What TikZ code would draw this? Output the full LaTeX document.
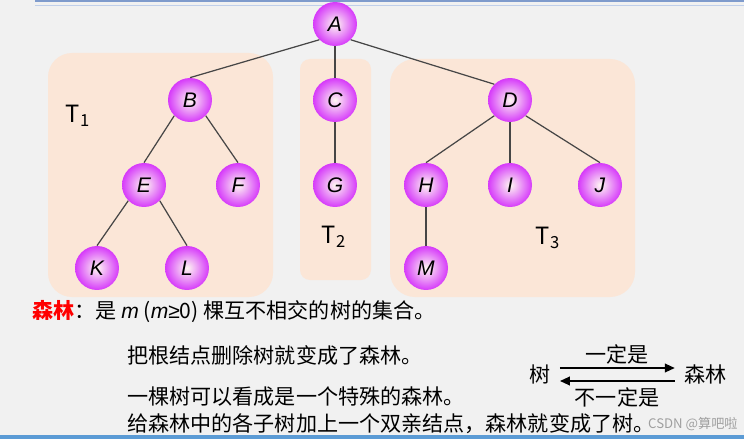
\documentclass[tikz,border=0pt]{standalone}
\usepackage{fontspec}
\setmainfont{Noto Sans CJK SC}
\newfontfamily\latinfont{Liberation Sans}
\usetikzlibrary{arrows.meta, positioning}
\definecolor{ballmagenta}{RGB}{214, 58, 250}
\definecolor{ballcenter}{RGB}{255, 248, 242}
\definecolor{peach}{RGB}{251, 230, 215}
\definecolor{slidegray}{RGB}{241, 241, 241}
\definecolor{rulebluedark}{RGB}{127, 155, 204}
\definecolor{rulebluelight}{RGB}{192, 207, 234}
\definecolor{barblue}{RGB}{91, 155, 213}
\definecolor{edgegray}{RGB}{70, 70, 70}

\begin{document}
\begin{tikzpicture}[
    x=0.02cm, y=-0.02cm,
    treenode/.style={
        circle, minimum size=0.88cm, inner sep=0pt,
        shading=radial, inner color=ballcenter, outer color=ballmagenta,
        font=\latinfont\itshape\fontsize{12}{14}\selectfont
    },
    treebox/.style={fill=peach, draw=none},
    link/.style={draw=edgegray, line width=0.7pt},
    treelabel/.style={font=\fontsize{13.5}{16}\selectfont, inner sep=0pt},
    slidetext/.style={anchor=west, inner sep=0pt, font=\fontsize{12}{14}\selectfont},
    swaparrow/.style={-{Triangle[length=2mm, width=1.7mm]}, black, line width=1.2pt}
]

% slide background
\useasboundingbox (0,0) rectangle (744,439);
\fill[slidegray] (0,0) rectangle (744,439);
\fill[rulebluedark] (35,0) rectangle (744,2.3);
\fill[rulebluelight] (35,5) rectangle (744,6.5);
\fill[barblue] (0,435) rectangle (744,439);

% subtree boxes
\fill[treebox, rounded corners=0.48cm] (48,53) rectangle (273,297);
\fill[treebox, rounded corners=0.2cm] (300,59) rectangle (371,280);
\fill[treebox, rounded corners=0.5cm] (390,59) rectangle (635,297);

% root
\node[treenode] (A) at (335,24) {A};

% level 1
\node[treenode] (B) at (190,100) {B};
\node[treenode] (C) at (335,100) {C};
\node[treenode] (D) at (510,100) {D};

% level 2
\node[treenode] (E) at (144,185) {E};
\node[treenode] (F) at (238,185) {F};
\node[treenode] (G) at (335,185) {G};
\node[treenode] (H) at (426,185) {H};
\node[treenode] (I) at (510,185) {I};
\node[treenode] (J) at (600,185) {J};

% level 3
\node[treenode] (K) at (97,268) {K};
\node[treenode] (L) at (187,268) {L};
\node[treenode] (M) at (426,268) {M};

% edges
\draw[link] (A.south west) -- (B.north);
\draw[link] (A.south) -- (C.north);
\draw[link] (A.south east) -- (D.north west);
\draw[link] (B.south west) -- (E.north);
\draw[link] (B.south east) -- (F.north);
\draw[link] (C.south) -- (G.north);
\draw[link] (D.south west) -- (H.north);
\draw[link] (D.south) -- (I.north);
\draw[link] (D.south east) -- (J.north);
\draw[link] (E.south west) -- (K.north);
\draw[link] (E.south east) -- (L.north);
\draw[link] (H.south) -- (M.north);

% subtree labels
\node[treelabel] (t1) at (78,116) {T\textsubscript{1}};
\node[treelabel] (t2) at (334,237) {T\textsubscript{2}};
\node[treelabel] (t3) at (548,238) {T\textsubscript{3}};

% text lines
\node[slidetext] (def) at (32,312) {\textcolor{red}{\bfseries 森林}：是 {\latinfont\itshape m} ({\latinfont\itshape m}{\latinfont ≥}0) 棵互不相交的树的集合。};
\node[slidetext] (cut) at (127,355) {把根结点删除树就变成了森林。};
\node[slidetext] (view) at (127,397) {一棵树可以看成是一个特殊的森林。};
\node[slidetext] (join) at (127,424) {给森林中的各子树加上一个双亲结点，森林就变成了树。};

% tree <-> forest
\node[slidetext, anchor=center, inner sep=0.18cm] (shu) at (540,374) {树};
\node[slidetext, anchor=west, inner sep=0.18cm, right=2.3cm of shu] (forest) {森林};
\draw[swaparrow] ([yshift=0.12cm]shu.east) -- ([yshift=0.12cm]forest.west);
\draw[swaparrow] ([yshift=-0.14cm]forest.west) -- ([yshift=-0.14cm]shu.east);
\node[slidetext, anchor=center] (always) at (617,354) {一定是};
\node[slidetext, anchor=center] (notalways) at (617,397) {不一定是};

% watermark
\node[font=\fontsize{7.5}{9}\selectfont, text=gray!75, inner sep=0pt, anchor=east] (mark) at (738,424) {CSDN @算吧啦};

\end{tikzpicture}
\end{document}
